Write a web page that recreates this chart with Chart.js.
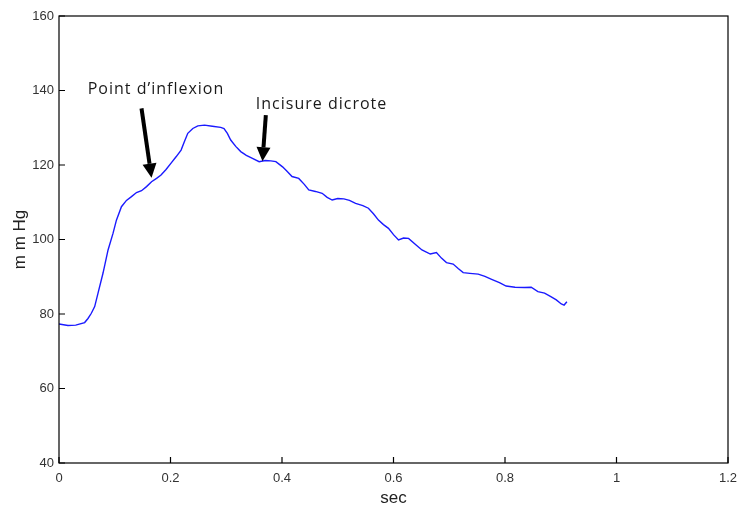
<!DOCTYPE html>
<html><head><meta charset="utf-8">
<script src="https://cdn.jsdelivr.net/npm/chart.js@4/dist/chart.umd.min.js"></script>
<style>html,body{margin:0;padding:0;background:#fff}#wrap{width:739px;height:509px}</style>
</head><body><div id="wrap"><canvas id="c" width="739" height="509"></canvas></div>
<script>
const timeSec = [0,0.016,0.030,0.046,0.052,0.058,0.064,0.070,0.079,0.088,0.097,0.103,0.112,0.121,0.130,0.139,0.148,0.157,0.166,0.175,0.183,0.192,0.201,0.210,0.219,0.225,0.231,0.240,0.249,0.261,0.275,0.290,0.296,0.302,0.308,0.317,0.326,0.336,0.347,0.359,0.370,0.380,0.389,0.401,0.409,0.418,0.430,0.440,0.448,0.460,0.472,0.481,0.490,0.500,0.511,0.521,0.532,0.545,0.555,0.564,0.573,0.582,0.591,0.600,0.609,0.618,0.627,0.640,0.651,0.666,0.677,0.686,0.695,0.707,0.716,0.725,0.737,0.752,0.764,0.776,0.790,0.802,0.818,0.835,0.847,0.859,0.871,0.883,0.892,0.901,0.906,0.911];
const pressure = [77.3,76.9,77.0,77.7,78.8,80.2,82.0,85.6,91.0,97.2,101.7,105.2,108.8,110.5,111.5,112.6,113.1,114.2,115.5,116.4,117.3,118.8,120.5,122.2,124.0,126.3,128.5,129.8,130.5,130.7,130.4,130.1,129.8,128.5,126.7,125.0,123.6,122.6,121.8,120.9,121.2,121.1,120.9,119.5,118.3,116.9,116.4,114.8,113.3,112.9,112.4,111.3,110.6,111.0,110.9,110.5,109.7,109.1,108.4,106.9,105.2,104.0,103.0,101.3,99.9,100.4,100.3,98.6,97.2,96.1,96.5,95.0,93.8,93.4,92.2,91.1,90.9,90.7,90.1,89.3,88.4,87.5,87.2,87.1,87.2,86.0,85.6,84.6,83.8,82.7,82.4,83.3];
const xTickValues = [0,0.2,0.4,0.6,0.8,1,1.2];
const yTickValues = [40,60,80,100,120,140,160];
const annotations = [
  {text:"Point d\u2019inflexion", tx:0.174, ty:140.3, align:"center", tail:[0.148,135.2], tip:[0.166,116.6]},
  {text:"Incisure dicrote", tx:0.353, ty:136.3, align:"left", tail:[0.371,133.4], tip:[0.365,121.0]}
];

const framePlugin = {
  id:'frame',
  afterDraw(chart){
    const ctx = chart.ctx, a = chart.chartArea;
    const xs = chart.scales.x, ys = chart.scales.y;
    ctx.save();
    ctx.strokeStyle = '#000'; ctx.lineWidth = 1.2;
    ctx.strokeRect(a.left, a.top, a.right - a.left, a.bottom - a.top);
    ctx.beginPath();
    xTickValues.forEach(v=>{const p=xs.getPixelForValue(v); ctx.moveTo(p,a.bottom); ctx.lineTo(p,a.bottom-6);});
    yTickValues.forEach(v=>{const p=ys.getPixelForValue(v); ctx.moveTo(a.left,p); ctx.lineTo(a.left+6,p);});
    ctx.stroke();
    annotations.forEach(an=>{
      ctx.fillStyle = '#1a1a1a';
      ctx.font = '16px "Open Sans", "Noto Sans", sans-serif';
      if ('letterSpacing' in ctx) ctx.letterSpacing = '1px';
      ctx.textAlign = an.align; ctx.textBaseline = 'middle';
      ctx.fillText(an.text, xs.getPixelForValue(an.tx), ys.getPixelForValue(an.ty));
      if ('letterSpacing' in ctx) ctx.letterSpacing = '0px';
      const x1 = xs.getPixelForValue(an.tail[0]), y1 = ys.getPixelForValue(an.tail[1]);
      const x2 = xs.getPixelForValue(an.tip[0]), y2 = ys.getPixelForValue(an.tip[1]);
      const ang = Math.atan2(y2-y1, x2-x1);
      const hl = 14, hw = 7;
      const bx = x2 - hl*Math.cos(ang), by = y2 - hl*Math.sin(ang);
      ctx.strokeStyle = '#000'; ctx.lineWidth = 4; ctx.lineCap='butt';
      ctx.beginPath(); ctx.moveTo(x1,y1); ctx.lineTo(bx,by); ctx.stroke();
      ctx.fillStyle = '#000';
      ctx.beginPath();
      ctx.moveTo(x2,y2);
      ctx.lineTo(bx + hw*Math.sin(ang), by - hw*Math.cos(ang));
      ctx.lineTo(bx - hw*Math.sin(ang), by + hw*Math.cos(ang));
      ctx.closePath(); ctx.fill();
    });
    ctx.restore();
  }
};

const fam = '"Liberation Sans", Arial, sans-serif';
const tickFont = {family:fam, size:13};
new Chart(document.getElementById('c'), {
  type:'line',
  data:{datasets:[{data: timeSec.map((t,i)=>({x:t,y:pressure[i]})), borderColor:'#1a1aff', borderWidth:1.4, pointRadius:0, tension:0, fill:false}]},
  options:{
    responsive:false, animation:false, devicePixelRatio:1,
    layout:{padding:{left:0,right:11,top:16,bottom:0}},
    plugins:{legend:{display:false}, tooltip:{enabled:false}},
    scales:{
      x:{type:'linear', min:0, max:1.2,
        afterBuildTicks(s){s.ticks = xTickValues.map(v=>({value:v}));},
        afterFit(s){s.height = 46; s.paddingLeft = 0; s.paddingRight = 0;},
        ticks:{font:tickFont, color:'#333', padding:8, maxRotation:0, autoSkip:false, callback:v=>String(v)},
        grid:{display:false, drawTicks:false}, border:{display:false},
        title:{display:true, text:'sec', font:{family:fam, size:17}, color:'#222', padding:{top:0,bottom:0}}
      },
      y:{type:'linear', min:40, max:160,
        afterBuildTicks(s){s.ticks = yTickValues.map(v=>({value:v}));},
        afterFit(s){s.width = 59; s.paddingTop = 0; s.paddingBottom = 0;},
        ticks:{font:tickFont, color:'#333', padding:5, callback:v=>String(v)},
        grid:{display:false, drawTicks:false}, border:{display:false},
        title:{display:true, text:'m m Hg', font:{family:fam, size:17}, color:'#222', padding:{top:10,bottom:0}}
      }
    }
  },
  plugins:[framePlugin]
});
</script></body></html>
